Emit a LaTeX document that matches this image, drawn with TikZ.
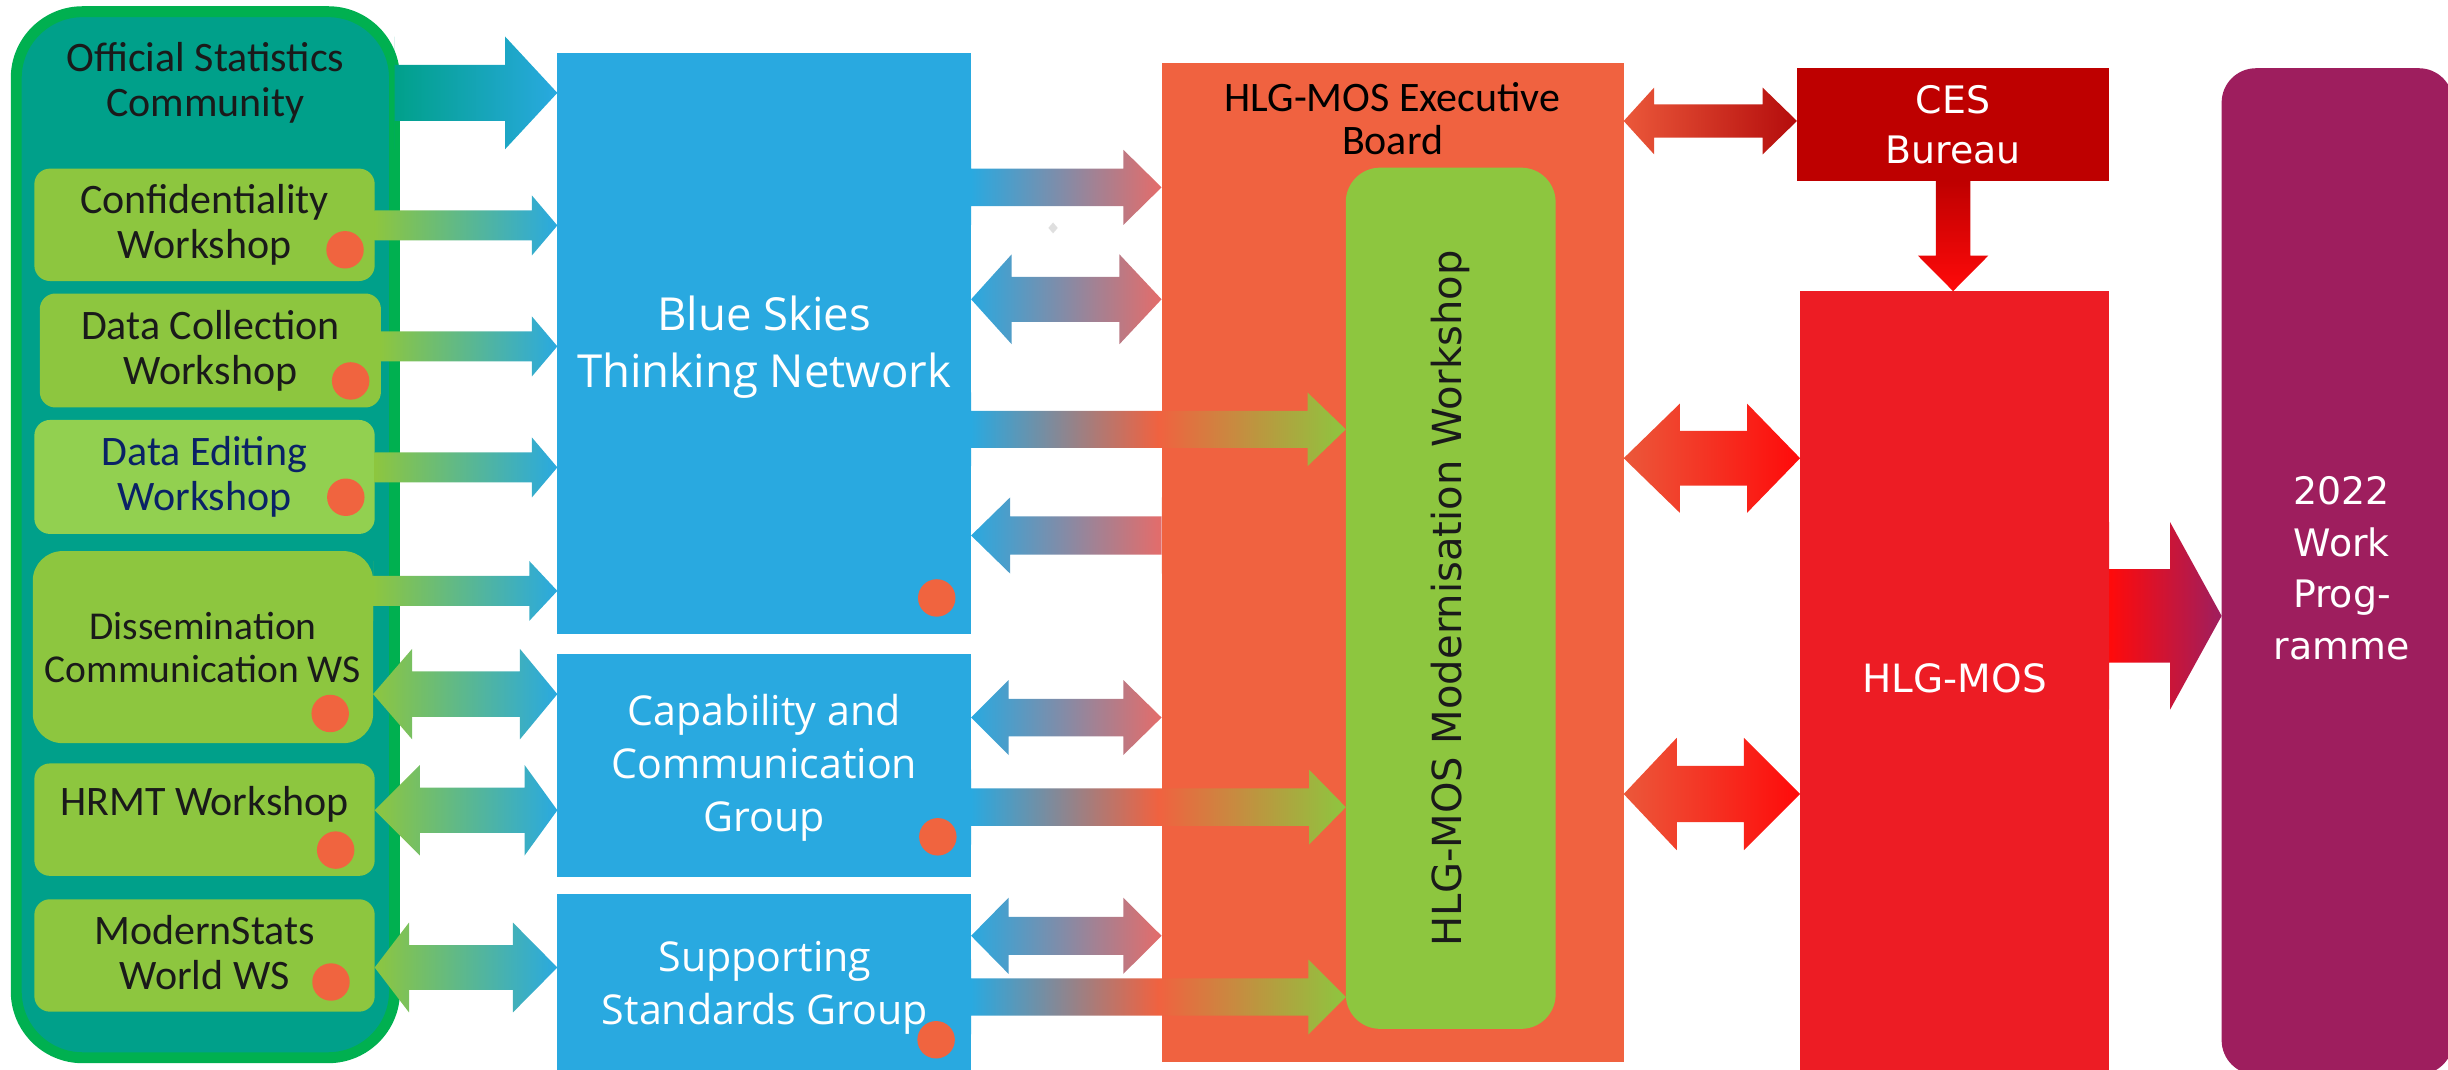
\documentclass[tikz,border=0pt]{standalone}
\usepackage{fontspec}
\setmainfont{Carlito}
\newfontfamily\opensans{Open Sans}
\newfontfamily\dejavu{DejaVu Sans}
\usetikzlibrary{calc,fit,positioning}

\definecolor{ostgreen}{HTML}{00B050}
\definecolor{osteal}{HTML}{00A08A}
\definecolor{wsgreen}{HTML}{8DC63F}
\definecolor{degreen}{HTML}{92D050}
\definecolor{wsdark}{HTML}{1A1A1A}
\definecolor{denavy}{HTML}{0A2266}
\definecolor{dotorange}{HTML}{F0643F}
\definecolor{bsblue}{HTML}{29A9E0}
\definecolor{execorange}{HTML}{F06240}
\definecolor{cesred}{HTML}{BE0000}
\definecolor{hlgred}{HTML}{ED1C24}
\definecolor{wppurple}{HTML}{9E1E5E}
\definecolor{arrsalmon}{RGB}{228,108,106}
\definecolor{arrorange}{RGB}{235,88,58}
\definecolor{arrdarkred}{RGB}{180,12,12}
\definecolor{arrred}{RGB}{255,10,10}

\pgfdeclarehorizontalshading{bluetoorangegreen}{100bp}{rgb(0bp)=(0.161,0.663,0.878); rgb(25bp)=(0.161,0.663,0.878); rgb(50bp)=(0.941,0.384,0.251); rgb(75bp)=(0.553,0.776,0.247); rgb(100bp)=(0.553,0.776,0.247)}

\tikzset{
  plain/.style={inner sep=0pt, outer sep=0pt},
  community/.style={plain, draw=ostgreen, fill=osteal, line width=0.14cm, rounded corners=0.85cm},
  wsbox/.style={plain, fill=wsgreen, rounded corners=0.2cm},
  wstext/.style={text=wsdark, align=center, font=\fontsize{15.3}{16.5}\selectfont},
  groupbox/.style={plain, fill=bsblue},
  grouptext/.style={text=white, align=center, font=\opensans\fontsize{15}{19.3}\selectfont},
  dot/.style={circle, fill=dotorange, minimum size=0.48cm, inner sep=0pt},
  widetext/.style={text=white, align=center, font=\dejavu\fontsize{13.8}{18.4}\selectfont},
  long/.style={shade, shading=bluetoorangegreen},
  bluered/.style={left color=bsblue, right color=arrsalmon}
}

% block arrow: [shading]{from}{to}{y}{shaft half}{left head}{right head}
\newcommand\blockarrow[7][]{%
  \path[#1] let \p1=(#2), \p2=(#3), \p3=(0,#4) in
    ({\x1+#6*0.02cm},{\y3+#5*0.02cm}) -- ({\x2-#7*0.02cm},{\y3+#5*0.02cm})
    -- ({\x2-#7*0.02cm},{\y3+2*#5*0.02cm}) -- (\x2,\y3) -- ({\x2-#7*0.02cm},{\y3-2*#5*0.02cm})
    -- ({\x2-#7*0.02cm},{\y3-#5*0.02cm}) -- ({\x1+#6*0.02cm},{\y3-#5*0.02cm})
    -- ({\x1+#6*0.02cm},{\y3-2*#5*0.02cm}) -- (\x1,\y3) -- ({\x1+#6*0.02cm},{\y3+2*#5*0.02cm}) -- cycle;}

\begin{document}
\begin{tikzpicture}[x=0.02cm, y=-0.02cm]
  \clip (0,0) rectangle (1568,685);

  \node[community, fit={(10.4,7.5) (252.7,677.5)}] (osc) {};
  \node[wstext] (osctxt) at ([yshift=-0.91cm]osc.north) {Official Statistics\\Community};
  \node[wsbox, fit={(22,108) (240,180)}] (conf) {};
  \node[wstext] (conftxt) at (conf.center) {Confidentiality\\Workshop};
  \node[wsbox, fit={(25.5,188) (244,261)}] (dcol) {};
  \node[wstext] (dcoltxt) at (dcol.center) {Data Collection\\Workshop};
  \node[wsbox, fill=degreen, fit={(22,269) (240,342)}] (dedit) {};
  \node[wstext, text=denavy] (dedittxt) at (dedit.center) {Data Editing\\Workshop};
  \node[wsbox, rounded corners=0.38cm, fit={(21,353) (239,476)}] (diss) {};
  \node[wstext, font=\fontsize{14.4}{15.6}\selectfont] (disstxt) at (diss.center) {Dissemination\\Communication WS};
  \node[wsbox, fit={(22,489) (240,561)}] (hrmt) {};
  \node[wstext] (hrmttxt) at ([yshift=0.2cm]hrmt.center) {HRMT Workshop};
  \node[wsbox, fit={(22,576) (240,648)}] (mstats) {};
  \node[wstext] (mstatstxt) at ([yshift=0.04cm]mstats.center) {ModernStats\\World WS};
  \node[dot] (d1) at (221,160) {};
  \node[dot] (d2) at (224.6,244) {};
  \node[dot] (d3) at (221.5,318.5) {};
  \node[dot] (d4) at (211.5,457) {};
  \node[dot] (d5) at (215,544.5) {};
  \node[dot] (d6) at (212,629) {};

  \node[groupbox, fit={(357,34) (622,406)}] (bst) {};
  \node[grouptext, font=\opensans\fontsize{16.6}{21}\selectfont] (bsttxt) at ([yshift=-0.05cm]bst.center) {Blue Skies\\Thinking Network};
  \node[groupbox, fit={(357,419) (622,562)}] (cap) {};
  \node[grouptext] (captxt) at ([yshift=-0.03cm]cap.center) {Capability and\\Communication\\Group};
  \node[groupbox, fit={(357,572.5) (622,690)}] (ssg) {};
  \node[grouptext] (ssgtxt) at (490,633) {Supporting\\Standards Group};
  \node[dot] (d7) at (600,383) {};
  \node[dot] (d8) at (600.7,536) {};
  \node[dot] (d9) at (599.6,666) {};

  \node[plain, fill=execorange, fit={(744,40.5) (1040,680.5)}] (exec) {};
  \node[wstext, text=black, font=\fontsize{15.3}{16}\selectfont] (exectxt) at ([yshift=-0.71cm]exec.north) {HLG-MOS Executive\\Board};
  \node[plain, fill=wsgreen, rounded corners=0.44cm, fit={(862,107.4) (996.4,659)}] (mw) {};
  \node[rotate=90, text=wsdark, font=\dejavu\fontsize{14.6}{17}\selectfont] (mwtxt) at (mw.center) {HLG-MOS Modernisation Workshop};
  \fill[gray!25] (674.5,142.5) -- (677.5,146) -- (674.5,149.5) -- (671.5,146) -- cycle;

  \node[plain, fill=cesred, fit={(1151,43.6) (1351,116)}] (ces) {};
  \node[widetext] (cestxt) at (ces.center) {CES\\Bureau};
  \node[plain, fill=hlgred, fit={(1153,186.5) (1351,690)}] (hlg) {};
  \node[widetext, font=\dejavu\fontsize{14.2}{18}\selectfont] (hlgtxt) at (1252,434.5) {HLG-MOS};
  \node[plain, fill=wppurple, rounded corners=0.44cm, fit={(1423,43.7) (1571.3,688.3)}] (wp) {};
  \node[widetext, font=\dejavu\fontsize{13.8}{18.8}\selectfont] (wptxt) at (1500,364) {2022\\Work\\Prog-\\ramme};

  \blockarrow[left color=osteal, right color=bsblue]{osc.east}{bst.west}{59.5}{18}{0}{33.4}
  \blockarrow[left color=wsgreen, right color=bsblue]{conf.east}{bst.west}{144.4}{9.6}{0}{16.3}
  \blockarrow[left color=wsgreen, right color=bsblue]{dcol.east}{bst.west}{221.9}{9.6}{0}{16.3}
  \blockarrow[left color=wsgreen, right color=bsblue]{dedit.east}{bst.west}{299.4}{9.6}{0}{16.3}
  \blockarrow[left color=wsgreen, right color=bsblue]{diss.east}{bst.west}{378.5}{9.6}{0}{18}
  \blockarrow[left color=wsgreen, right color=bsblue]{diss.east}{cap.west}{444.6}{14.5}{25}{24}
  \blockarrow[left color=wsgreen, right color=bsblue]{hrmt.east}{cap.west}{519}{14.5}{29}{21}
  \blockarrow[left color=wsgreen, right color=bsblue]{mstats.east}{ssg.west}{619.7}{14.4}{22}{28.5}

  \blockarrow[bluered]{bst.east}{exec.west}{120}{12}{0}{24.4}
  \blockarrow[bluered]{bst.east}{exec.west}{191.7}{14.4}{26}{27}
  \blockarrow[long]{bst.east}{mw.west}{275}{11.8}{0}{24.5}
  \blockarrow[bluered]{bst.east}{exec.west}{343}{12.2}{25}{0}
  \blockarrow[bluered]{cap.east}{exec.west}{459.6}{12}{24}{24.5}
  \blockarrow[long]{cap.east}{mw.west}{517}{12}{0}{23.5}
  \blockarrow[bluered]{ssg.east}{exec.west}{599.4}{12.2}{24}{24.5}
  \blockarrow[long]{ssg.east}{mw.west}{638.6}{12}{0}{24}

  \blockarrow[left color=arrorange, right color=arrdarkred]{exec.east}{ces.west}{77.5}{10.7}{19.5}{22}
  \blockarrow[left color=arrorange, right color=arrred]{exec.east}{hlg.west}{293.5}{17.5}{36}{34}
  \blockarrow[left color=arrorange, right color=arrred]{exec.east}{hlg.west}{508.6}{18}{34}{36}
  \path[top color=cesred, bottom color=arrred] let \p1=(ces.south), \p2=(hlg.north) in
    ({\x1-11*0.02cm},\y1) -- ({\x1+11*0.02cm},\y1) -- ({\x1+11*0.02cm},{\y2+22.8*0.02cm})
    -- ({\x1+22.6*0.02cm},{\y2+22.8*0.02cm}) -- (\x1,\y2) -- ({\x1-22.6*0.02cm},{\y2+22.8*0.02cm})
    -- ({\x1-11*0.02cm},{\y2+22.8*0.02cm}) -- cycle;
  \blockarrow[left color=arrred, right color=wppurple]{hlg.east}{wp.west}{394.5}{30}{0}{33}
\end{tikzpicture}
\end{document}
